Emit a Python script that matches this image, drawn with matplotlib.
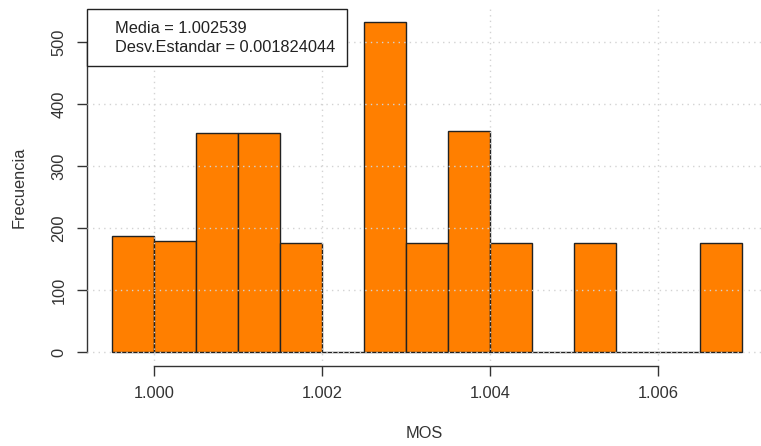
import matplotlib
matplotlib.use("Agg")
import matplotlib.pyplot as plt
import numpy as np

# Data (histogram bins and counts)
bin_edges = [0.9995, 1.0000, 1.0005, 1.0010, 1.0015, 1.0020, 1.0025, 1.0030,
             1.0035, 1.0040, 1.0045, 1.0050, 1.0055, 1.0060, 1.0065, 1.0070]
counts = [187, 179, 354, 354, 176, 0, 532, 176, 357, 176, 0, 176, 0, 0, 176]
x_ticks = [1.000, 1.002, 1.004, 1.006]
x_tick_labels = ["1.000", "1.002", "1.004", "1.006"]
y_ticks = [0, 100, 200, 300, 400, 500]
legend_lines = ["Media = 1.002539", "Desv.Estandar = 0.001824044"]

plt.rcParams['font.family'] = ['Liberation Sans', 'DejaVu Sans']
FS = 11.8

W, H = 761, 446
fig = plt.figure(figsize=(W / 100, H / 100), dpi=100)

# plot region in pixels
left_px, right_px = 87.3, 761.0
top_px, bottom_px = 9.3, 365.5
ax = fig.add_axes([left_px / W, 1 - bottom_px / H,
                   (right_px - left_px) / W, (bottom_px - top_px) / H])
aw = right_px - left_px
ah = bottom_px - top_px

# x mapping: 1.000 at 154 px, 1.006 at 658 px
px_per_unit = (658 - 154) / 0.006
xmin = 1.000 - (154 - left_px) / px_per_unit
xmax = 1.000 + (right_px - 154) / px_per_unit
ax.set_xlim(xmin, xmax)
ax.set_ylim(-21.3, 552.5)

edges = np.array(bin_edges)
widths = np.diff(edges)
ax.bar(edges[:-1], counts, width=widths, align='edge', color='#FF7F00',
       edgecolor='#222222', linewidth=1.0, zorder=2)

# grid drawn on top (R grid after hist)
for yt in y_ticks:
    ax.axhline(yt, color='#D3D3D3', linestyle=(0, (1, 3)), linewidth=1.0, zorder=3)
for xt in x_ticks:
    ax.axvline(xt, color='#D3D3D3', linestyle=(0, (1, 3)), linewidth=1.0, zorder=3)

for s in ['top', 'right']:
    ax.spines[s].set_visible(False)
ax.spines['left'].set_bounds(0, 500)
ax.spines['bottom'].set_bounds(1.000, 1.006)
for s in ['left', 'bottom']:
    ax.spines[s].set_color('#333333')
    ax.spines[s].set_linewidth(1.0)

ax.set_xticks(x_ticks)
ax.set_xticklabels(x_tick_labels)
ax.set_yticks(y_ticks)
ax.set_yticklabels([str(v) for v in y_ticks], rotation=90, va='center')
ax.tick_params(axis='both', length=7, width=1.0, color='#333333',
               labelsize=FS, labelcolor='#333333')
ax.tick_params(axis='x', pad=8)
ax.tick_params(axis='y', pad=8)

ax.set_xlabel("MOS", fontsize=FS, color='#333333')
ax.set_ylabel("Frecuencia", fontsize=FS, color='#333333')
ax.xaxis.set_label_coords(0.5, -(433.5 - bottom_px) / ah)
ax.xaxis.label.set_va('center')
ax.yaxis.set_label_coords(-(left_px - 19) / aw, 0.5)
ax.yaxis.label.set_va('center')

# legend box top-left
box_w = (346.7 - left_px) / aw
box_h = (66.3 - top_px) / ah
rect = plt.Rectangle((0, 1 - box_h), box_w, box_h, transform=ax.transAxes,
                     facecolor='white', edgecolor='#222222', linewidth=1.0,
                     zorder=5, clip_on=False)
ax.add_patch(rect)
ax.text((115 - left_px) / aw, 1 - (29 - top_px) / ah,
        legend_lines[0], transform=ax.transAxes, fontsize=FS, color='#222222',
        va='center', ha='left', zorder=6)
ax.text((115 - left_px) / aw, 1 - (47.5 - top_px) / ah,
        legend_lines[1], transform=ax.transAxes, fontsize=FS, color='#222222',
        va='center', ha='left', zorder=6)

fig.savefig("out.png", dpi=100)
